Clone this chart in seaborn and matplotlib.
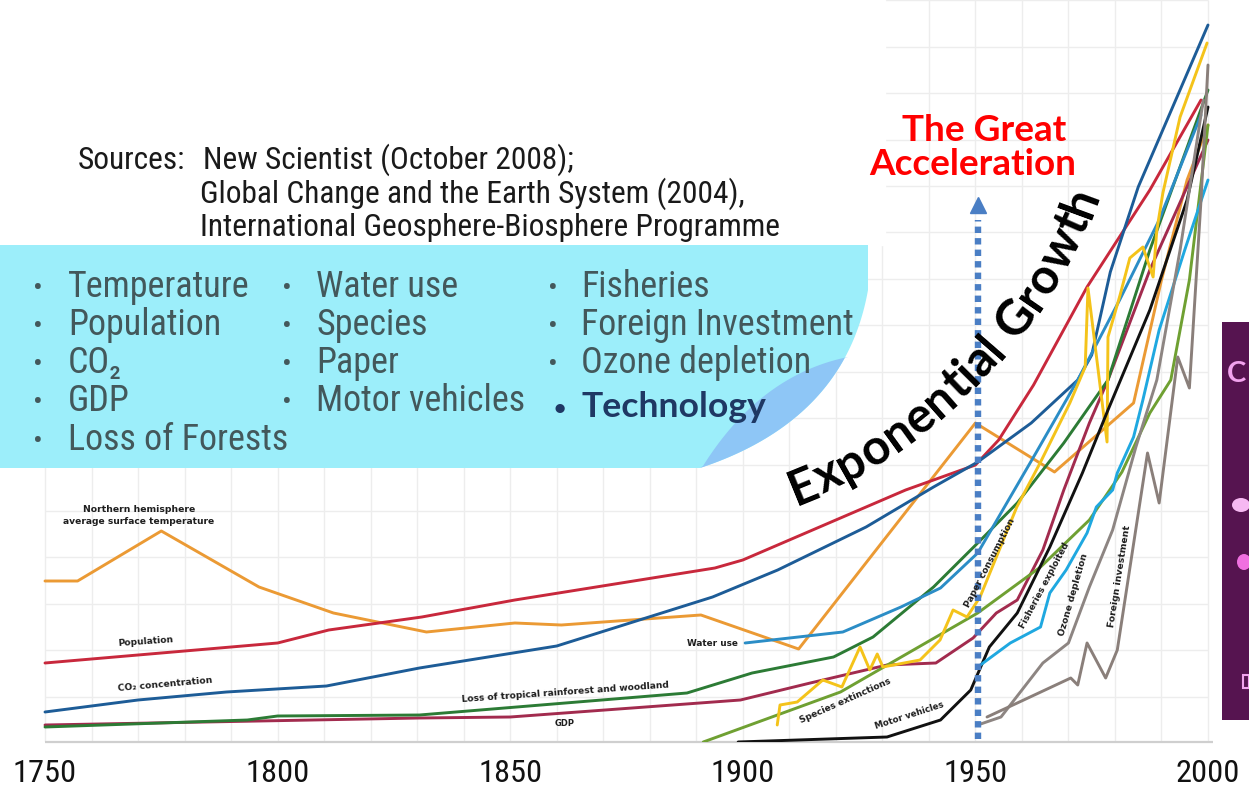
import numpy as np
import pandas as pd
import matplotlib
matplotlib.use("Agg")
import matplotlib.pyplot as plt
import seaborn as sns
from matplotlib import font_manager
from matplotlib.font_manager import FontProperties
from matplotlib.patches import Polygon, Rectangle, Ellipse

# ---------------- data (index units) ----------------
x_ticks = [1750, 1800, 1850, 1900, 1950, 2000]
x_tick_labels = ["1750", "1800", "1850", "1900", "1950", "2000"]

temp_years = [1750, 1757, 1775, 1796, 1812, 1832, 1851, 1861, 1891, 1912, 1950, 1967, 1984, 1990, 1995.5, 2000]
temp_vals = [161, 161, 211, 155, 129, 110, 119, 117, 127, 93, 319, 270, 339, 462, 562, 617]

pop_years = [1750, 1800, 1811, 1831, 1851, 1894, 1900, 1919, 1935, 1950, 1955, 1962.5, 1974, 1987.5, 1998.5]
pop_vals = [79, 99, 112, 125, 142, 174, 182, 220, 252, 277, 302, 357, 455, 552, 642]

co2_years = [1750, 1770, 1789, 1810.5, 1830.5, 1860, 1893.5, 1907.5, 1926.5, 1941, 1950.5, 1962, 1972, 1975, 1979, 1985, 2000]
co2_vals = [30, 42, 50, 56, 74, 96, 145, 172, 215, 255, 280, 319, 362, 387, 470, 555, 717]

gdp_years = [1750, 1830.5, 1850, 1899.5, 1914.5, 1931, 1941.5, 1949.5, 1954.5, 1959, 1964.5, 1969, 1974.5, 1978.5, 1987.5, 2000]
gdp_vals = [17, 24, 25, 42, 59, 77, 79, 104, 129, 142, 192, 252, 319, 362, 472, 602]

forest_years = [1750, 1793.5, 1800, 1830.5, 1888, 1902, 1919.5, 1928, 1941, 1950.5, 1959, 1969, 1978.5, 1987.5, 2000]
forest_vals = [15, 22, 26, 27, 49, 69, 85, 105, 155, 199, 239, 299, 362, 492, 652]

water_years = [1900.5, 1921.5, 1934, 1942.5, 1950.5, 1963, 1972, 1981, 1989.5, 1998.5]
water_vals = [99, 110, 135, 154, 189, 289, 362, 442, 522, 627]

species_years = [1891.5, 1921, 1950.5, 1964, 1974.5, 1981.5, 1987.5, 1992, 1996, 2000]
species_vals = [0, 50, 129, 175, 222, 270, 329, 362, 462, 617]

paper_years = [1907.4, 1908, 1911.7, 1917.2, 1921.3, 1925.2, 1927.3, 1928.9, 1930.1, 1938.1, 1942.4,
               1945.2, 1948.2, 1951, 1958.9, 1963.9, 1970.3, 1973.6, 1974.2, 1978.3, 1978.5, 1981.1,
               1983.2, 1986, 1988.2, 1989, 1990.3, 1994, 1999.8]
paper_vals = [17, 37, 40, 62, 55, 95, 72, 88, 75, 82, 102, 132, 125, 145, 235, 279, 339, 375, 454,
              300, 405, 447, 484, 495, 465, 512, 549, 625, 699]

motor_years = [1899, 1931, 1942.5, 1949, 1953, 1959, 1966, 1973, 1978.5, 1987.5, 1995.5, 2000]
motor_vals = [0, 5, 22, 52, 95, 129, 195, 269, 332, 432, 542, 635]

fish_years = [1950.5, 1957.5, 1964, 1966, 1969.5, 1974, 1976, 1979.5, 1980.5, 1984, 1986, 1989.5, 1995, 2000]
fish_vals = [75, 99, 115, 149, 172, 209, 235, 252, 269, 305, 342, 412, 492, 562]

ozone_years = [1950.5, 1955.5, 1964.5, 1970, 1974.5, 1979.5, 1984.5, 1989, 1994, 1999]
ozone_vals = [17, 25, 79, 99, 155, 212, 295, 362, 492, 642]

foreign_years = [1952.5, 1959, 1970.5, 1972, 1974, 1978, 1980.5, 1987, 1989.5, 1993.5, 1996, 1998.5, 2000]
foreign_vals = [25, 39, 64, 57, 99, 64, 92, 289, 239, 385, 354, 542, 677]

series = {
    "Temperature": (temp_years, temp_vals),
    "Population": (pop_years, pop_vals),
    "CO2": (co2_years, co2_vals),
    "GDP": (gdp_years, gdp_vals),
    "Forest": (forest_years, forest_vals),
    "Water": (water_years, water_vals),
    "Species": (species_years, species_vals),
    "Paper": (paper_years, paper_vals),
    "Motor": (motor_years, motor_vals),
    "Fisheries": (fish_years, fish_vals),
    "Ozone": (ozone_years, ozone_vals),
    "Foreign": (foreign_years, foreign_vals),
}
palette = {
    "Temperature": "#EB9A34", "Population": "#C8283C", "CO2": "#1D5C97", "GDP": "#A22B4E",
    "Forest": "#2C7B35", "Water": "#2B8DC6", "Species": "#6FA032", "Paper": "#F4C31A",
    "Motor": "#111111", "Fisheries": "#1FA8E0", "Ozone": "#8D8582", "Foreign": "#8A7F7A",
}

rows = []
for name, (ys, vs) in series.items():
    for i, (yr, v) in enumerate(zip(ys, vs)):
        rows.append((name, i, yr, v))
df = pd.DataFrame(rows, columns=["series", "order", "year", "value"])

# ---------------- style ----------------
sns.set_theme(style="white")
entries = font_manager.fontManager.ttflist
names = {f.name for f in entries}
NARROW, NSTRETCH = "DejaVu Sans", "normal"
for cand in ["Liberation Sans Narrow", "Arial Narrow", "Roboto Condensed", "Open Sans Condensed"]:
    if cand in names:
        NARROW, NSTRETCH = cand, "normal"
        break
else:
    for fam in ["DejaVu Sans", "Noto Sans", "Open Sans"]:
        if any(f.name == fam and str(f.stretch) in ("condensed", "semi-condensed", "extra-condensed")
               for f in entries):
            NARROW, NSTRETCH = fam, "condensed"
            break
HUMAN = "Lato" if "Lato" in names else "DejaVu Sans"
plt.rcParams["font.family"] = ["DejaVu Sans"]

W, H = 1249, 790
fig = plt.figure(figsize=(W / 100, H / 100), dpi=100)
fig.patch.set_facecolor("white")
ax = fig.add_axes([0, 48 / H, 1, 742 / H])
PPY = 4.652
ax.set_xlim(1750 - 45 / PPY, 1750 + (W - 45) / PPY)
ax.set_ylim(0, 742)
for sp in ax.spines.values():
    sp.set_visible(False)
ax.set_facecolor("white")

renderer = fig.canvas.get_renderer()


def fx(x):
    return x / W


def fy(y):
    return 1 - y / H


def tw(s, family, weight, size, stretch="normal"):
    fp = FontProperties(family=family, weight=weight, size=size, stretch=stretch)
    w, h, d = renderer.get_text_width_height_descent(s, fp, ismath=False)
    return w


def fit(s, family, weight, target, stretch="normal", ref=20.0):
    return ref * target / tw(s, family, weight, ref, stretch)


NFAM = [NARROW, "DejaVu Sans"]

# grid
ax.vlines(np.arange(1750, 2001, 10), 0, 742, color="#ededed", lw=1, zorder=0)
ax.hlines(np.arange(45.5, 742, 46.4), 1750, 2000, color="#ededed", lw=1, zorder=0)
ax.hlines(0, 1750, 2001, color="#cfcfcf", lw=1.6, zorder=1, clip_on=False)

sns.lineplot(data=df, x="year", y="value", hue="series", palette=palette, sort=False,
             estimator=None, legend=False, lw=2.1, ax=ax, zorder=3)

# dotted arrow at 1950
xa = 1750 + (978.5 - 45) / PPY
ax.plot([xa, xa], [3, 522], ls=(0, (1, 0.8)), lw=4.6, color="#4a7ec4",
        dash_capstyle="butt", zorder=6)
ax.plot([xa], [537], marker="^", ms=12, color="#4a7ec4", mec="#4a7ec4", zorder=6)

# ticks
tick_fs = fit("1750", NFAM, "normal", 64, NSTRETCH)
ax.set_xticks(x_ticks)
ax.set_xticklabels(x_tick_labels, fontsize=tick_fs, family=NFAM, fontstretch=NSTRETCH, color="#111111")
ax.set_yticks([])
ax.tick_params(axis="x", length=0, pad=12)
ax.set_xlabel("")
ax.set_ylabel("")

# ---------------- overlays ----------------
fig.add_artist(Rectangle((0, fy(245)), fx(885), 245 / H, transform=fig.transFigure,
                         color="white", zorder=0.5))

# cyan box with curved right edge
tq = np.linspace(0, 1, 60)[:, None]
c0, c1, c2 = np.array([868, 290.0]), np.array([845, 420.0]), np.array([700, 468.0])
curve = (1 - tq) ** 2 * c0 + 2 * (1 - tq) * tq * c1 + tq ** 2 * c2
cyan_pts = [(0, 245), (868, 245)] + [tuple(p) for p in curve] + [(0, 468)]
fig.add_artist(Polygon([(fx(x), fy(y)) for x, y in cyan_pts], closed=True,
                       transform=fig.transFigure, facecolor="#9ceefa", edgecolor="none", zorder=1))
outer = curve[curve[:, 1] >= 357]
i0, i1, i2 = np.array([848, 357.0]), np.array([760, 375.0]), np.array([703, 466.0])
inner = (1 - tq) ** 2 * i0 + 2 * (1 - tq) * tq * i1 + tq ** 2 * i2
cres = [tuple(p) for p in outer] + [tuple(p) for p in inner[::-1]]
fig.add_artist(Polygon([(fx(x), fy(y)) for x, y in cres], closed=True,
                       transform=fig.transFigure, facecolor="#8ec6f6", edgecolor="none", zorder=1.1))

# sources text
src_fs = fit("International Geosphere-Biosphere Programme", NFAM, "normal", 578, NSTRETCH)
src_kw = dict(fontsize=src_fs, family=NFAM, fontstretch=NSTRETCH, color="#1a1a1a", va="baseline")
fig.text(fx(78), fy(169), "Sources:", **src_kw)
fig.text(fx(203), fy(169), "New Scientist (October 2008);", **src_kw)
fig.text(fx(200), fy(203), "Global Change and the Earth System (2004),", **src_kw)
fig.text(fx(200), fy(236), "International Geosphere-Biosphere Programme", **src_kw)

# bullet list
list_fs = fit("Foreign Investment", NFAM, "normal", 272, NSTRETCH)
list_color = "#43585b"
bul_rows = [297, 335, 373, 411, 450]
columns = [
    (38, 68, ["Temperature", "Population", "CO₂", "GDP", "Loss of Forests"]),
    (287, 316, ["Water use", "Species", "Paper", "Motor vehicles"]),
    (553, 581, ["Fisheries", "Foreign Investment", "Ozone depletion"]),
]
for bx, tx, items in columns:
    for k, item in enumerate(items):
        fig.text(fx(bx), fy(bul_rows[k]), "•", fontsize=list_fs * 0.8, family=NFAM,
                 fontstretch=NSTRETCH, color=list_color, ha="center", va="baseline", zorder=4)
        fig.text(fx(tx), fy(bul_rows[k]), item, fontsize=list_fs, family=NFAM,
                 fontstretch=NSTRETCH, color=list_color, ha="left", va="baseline", zorder=4)
tech_fs = fit("Technology", HUMAN, "bold", 184)
fig.text(fx(560), fy(415), "•", fontsize=tech_fs * 0.6, family=HUMAN, weight="bold",
         color="#1f3864", ha="center", va="baseline", zorder=4)
fig.text(fx(581), fy(417), "Technology", fontsize=tech_fs, family=HUMAN, weight="bold",
         color="#1f3864", ha="left", va="baseline", zorder=4)

# red title
title_fs = fit("Acceleration", HUMAN, "bold", 207)
fig.text(fx(984), fy(141), "The Great", fontsize=title_fs, family=HUMAN, weight="bold",
         color="#ff0000", ha="center", va="baseline", zorder=4)
fig.text(fx(973), fy(175), "Acceleration", fontsize=title_fs, family=HUMAN, weight="bold",
         color="#ff0000", ha="center", va="baseline", zorder=4)

# curved "Exponential Growth"
ctrl = np.array([[791, 494], [930, 443], [1050, 308], [1088, 190]], float)
tt = np.linspace(0, 1, 3001)[:, None]
pts = ((1 - tt) ** 3 * ctrl[0] + 3 * (1 - tt) ** 2 * tt * ctrl[1]
       + 3 * (1 - tt) * tt ** 2 * ctrl[2] + tt ** 3 * ctrl[3])
dd = np.diff(pts, axis=0)
arc = np.concatenate([[0], np.cumsum(np.hypot(dd[:, 0], dd[:, 1]))])
phrase = "Exponential Growth"


def adv(prefix, size):
    return tw(prefix + "|", HUMAN, "bold", size) - tw("|", HUMAN, "bold", size)


eg_fs = 30 * arc[-1] / adv(phrase, 30)
em = eg_fs * 100 / 72
for i, ch in enumerate(phrase):
    if ch == " ":
        continue
    c = (adv(phrase[:i], eg_fs) + adv(phrase[:i + 1], eg_fs)) / 2
    j = int(np.clip(np.searchsorted(arc, c), 1, len(arc) - 1))
    px, py = pts[j]
    ddx, ddy = pts[j] - pts[j - 1]
    ang = np.arctan2(-ddy, ddx)
    bxp = px + 0.25 * em * np.sin(ang)
    byp = py + 0.25 * em * np.cos(ang)
    fig.text(fx(bxp), fy(byp), ch, fontsize=eg_fs, family=HUMAN, weight="bold", color="black",
             rotation=np.degrees(ang), rotation_mode="anchor", ha="center", va="baseline", zorder=5)

# purple box on the right
fig.add_artist(Rectangle((fx(1222), fy(720)), 27 / W, 398 / H, transform=fig.transFigure,
                         facecolor="#561450", edgecolor="none", zorder=1))
fig.text(fx(1237), fy(382), "C", fontsize=21, family=HUMAN, weight="bold", color="#f2a3ee",
         ha="center", va="baseline", zorder=4)
fig.add_artist(Ellipse((fx(1241), fy(505)), 18 / W, 14 / H, transform=fig.transFigure,
                       facecolor="#f6b8f2", edgecolor="none", zorder=2))
fig.add_artist(Ellipse((fx(1244), fy(562)), 14 / W, 16 / H, transform=fig.transFigure,
                       facecolor="#f070e0", edgecolor="none", zorder=2))
fig.add_artist(Rectangle((fx(1243), fy(688)), 6 / W, 13 / H, transform=fig.transFigure,
                         facecolor="none", edgecolor="#f2a3ee", lw=1.5, zorder=2))

# chart labels
labels = [
    ("Northern hemisphere", 139, 509, 0, 112),
    ("average surface temperature", 139, 522, 0, 152),
    ("Population", 145, 642, 4, 56),
    ("CO₂ concentration", 165, 684, 5, 94),
    ("Loss of tropical rainforest and woodland", 565, 692, 4, 210),
    ("GDP", 565, 724, 0, 20),
    ("Water use", 712, 643, 0, 51),
    ("Species extinctions", 845, 701, 24, 98),
    ("Motor vehicles", 909, 716, 18, 72),
    ("Paper consumption", 990, 563, 62.5, 100),
    ("Fisheries exploited", 1045, 586, 62, 96),
    ("Ozone depletion", 1073, 595, 74, 85),
    ("Foreign investment", 1120, 576, 81, 103),
]
for s, x, y, rot, wpx in labels:
    fs = fit(s, "DejaVu Sans", "bold", wpx)
    fig.text(fx(x), fy(y), s, fontsize=fs, family="DejaVu Sans", weight="bold", color="#1e1e1e",
             rotation=rot, rotation_mode="anchor", ha="center", va="center", zorder=4)

fig.savefig("out.png", dpi=100)
